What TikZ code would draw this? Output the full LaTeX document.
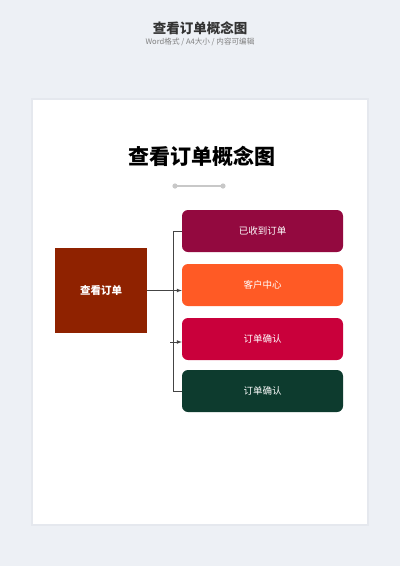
\documentclass[tikz,border=0pt]{standalone}
\usepackage{fontspec}
\setmainfont{Noto Sans CJK SC}
\usetikzlibrary{positioning}
\definecolor{bggray}{RGB}{237,240,245}
\definecolor{shadowgray}{RGB}{229,232,238}
\definecolor{rootred}{RGB}{143,34,0}
\definecolor{plum}{RGB}{147,9,63}
\definecolor{orangered}{RGB}{255,90,37}
\definecolor{crimson}{RGB}{201,0,59}
\definecolor{darkgreen}{RGB}{13,59,46}
\definecolor{linegray}{RGB}{68,68,68}
\definecolor{dotgray}{RGB}{200,200,200}
\tikzset{
  rootbox/.style={fill=rootred,text=white,font=\bfseries\fontsize{10.5}{12}\selectfont,minimum width=92pt,minimum height=85pt,inner sep=0pt},
  itembox/.style={text=white,font=\fontsize{9.5}{11}\selectfont,minimum width=161pt,minimum height=42pt,rounded corners=6pt,inner sep=0pt},
  link/.style={draw=linegray,line width=0.7pt}
}

\begin{document}
\begin{tikzpicture}[x=1pt,y=-1pt]
\useasboundingbox[fill=bggray] (0,0) rectangle (400,566);
\fill[shadowgray] (31,98) rectangle (369,526); % page shadow
\fill[white] (33,100) rectangle (367,524);
\node[font=\bfseries\fontsize{13.5}{15}\selectfont,text=black!80] (head) at (200,28) {查看订单概念图};
\node[font=\fontsize{7.6}{9}\selectfont,text=black!50] (sub) at (200,42) {Word格式 / A4大小 / 内容可编辑};
\node[font=\bfseries\fontsize{21}{24}\selectfont] (title) at (202,156) {查看订单概念图};
\coordinate (dl) at (175,186);
\coordinate (dr) at (223,186);
\draw[dotgray,line width=1.2pt] (dl) -- (dr);
\fill[dotgray] (dl) circle (2.6) (dr) circle (2.6);
\node[rootbox] (root) at (101,290.5) {查看订单};
\node[itembox,fill=plum] (recv) at (262.5,231) {已收到订单};
\node[itembox,fill=orangered] (center) at (262.5,285) {客户中心};
\node[itembox,fill=crimson] (confa) at (262.5,339) {订单确认};
\node[itembox,fill=darkgreen] (confb) at (262.5,391) {订单确认};
\draw[link] (recv.west) -- ++(-8,0) |- (confb.west);
\draw[link,-latex] (root.east) -- (root.east -| center.west);
\coordinate (stub) at (170,342);
\draw[link,-latex] (stub) -- (stub -| confa.west);
\end{tikzpicture}
\end{document}
